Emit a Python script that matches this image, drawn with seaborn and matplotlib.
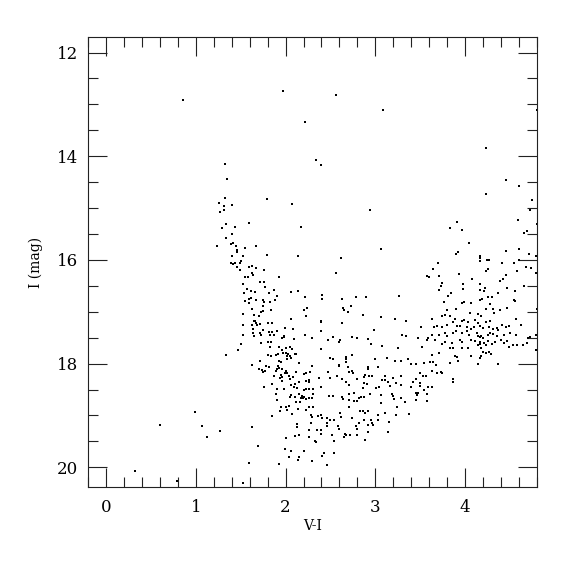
import numpy as np
import pandas as pd
import matplotlib
matplotlib.use("Agg")
import matplotlib.pyplot as plt
import seaborn as sns
from matplotlib.ticker import MultipleLocator

# ---- data (V-I colour, I magnitude) ----
vi_bright = [0.86, 1.97, 2.22, 2.56, 3.09, 2.34, 2.39, 4.23, 4.80, 4.45, 4.60, 4.23,
             4.74, 4.72, 2.94, 3.91, 4.59, 4.80, 3.06, 2.62]
i_bright = [12.91, 12.74, 13.34, 12.81, 13.11, 14.08, 14.16, 13.84, 13.10, 14.46, 14.57, 14.72,
            14.84, 15.04, 15.04, 15.26, 15.23, 15.31, 15.78, 15.97]

vi_blue = [1.33, 1.35, 1.33, 1.79, 1.26, 1.31, 1.40, 2.07, 1.32, 1.27, 1.34, 1.59, 1.29, 1.44,
           2.17, 1.40, 1.34, 1.24, 1.39, 1.41, 1.45, 1.55, 1.67, 1.46, 1.46, 1.40, 1.53, 1.79,
           2.14, 1.50, 1.49, 1.44, 1.39, 1.42, 1.46, 1.59, 1.63, 1.67, 1.49, 1.76, 1.63, 1.58,
           1.55, 1.64, 1.93, 1.72, 1.76, 1.53, 1.77, 1.57, 1.87, 1.61, 1.66, 1.54, 2.06, 2.14,
           1.82, 1.90, 2.22, 1.61, 1.59, 1.55, 1.67, 1.75, 1.76, 1.88, 1.83, 1.59, 1.75, 1.63,
           2.24]
i_blue = [14.15, 14.44, 14.81, 14.83, 14.91, 14.96, 14.95, 14.92, 15.04, 15.07, 15.31, 15.29,
          15.39, 15.37, 15.37, 15.50, 15.58, 15.73, 15.70, 15.68, 15.74, 15.77, 15.74, 15.81,
          15.85, 15.93, 15.92, 15.90, 15.92, 16.03, 16.06, 16.06, 16.06, 16.08, 16.13, 16.13,
          16.12, 16.16, 16.19, 16.19, 16.26, 16.32, 16.32, 16.29, 16.33, 16.42, 16.42, 16.47,
          16.53, 16.56, 16.58, 16.60, 16.61, 16.63, 16.61, 16.60, 16.63, 16.69, 16.71, 16.73,
          16.76, 16.80, 16.78, 16.78, 16.82, 16.78, 16.82, 16.84, 16.88, 16.94, 16.92]

vi_mid = [2.20, 1.53, 1.73, 1.75, 1.65, 1.84, 1.70, 2.23, 1.65, 1.66, 1.67, 1.63, 1.68, 1.72,
          1.53, 1.81, 1.85, 1.64, 1.75, 2.06, 1.99, 2.08, 1.53, 1.64, 1.72, 1.73, 1.65, 1.82,
          1.85, 1.90, 1.83, 1.87, 2.22, 1.98, 1.96, 1.98, 2.09, 1.50, 1.73, 1.81, 1.84, 1.83,
          1.93, 1.96, 2.00, 2.05, 2.07, 1.47, 1.34, 1.81, 1.84, 1.89, 1.92, 1.97, 2.00, 2.03,
          2.10, 2.12, 2.02, 2.05, 2.06, 1.93, 1.95, 2.02, 1.71, 1.63, 1.78, 1.82, 2.15, 1.92,
          1.93, 1.91, 1.89, 1.70, 1.74, 1.77, 1.75, 1.96, 2.00, 1.87, 1.95, 1.96, 1.99, 2.02,
          2.04, 2.12, 2.05, 2.08, 2.20, 2.23, 2.27, 1.94, 1.96, 2.26, 1.85, 1.76, 2.06, 2.10,
          2.15, 2.23, 2.26, 1.91, 1.98, 2.09, 2.13, 2.20, 2.23, 2.26, 1.89, 2.06, 2.05, 2.10,
          2.15, 2.18, 2.17, 2.19, 2.21, 2.23, 2.26, 1.91, 2.12, 2.16, 2.26, 1.95, 2.00, 2.04,
          2.14, 2.23, 1.94, 2.02, 2.07, 1.85, 1.07, 1.12, 1.27, 1.63, 2.13, 2.13, 1.69, 2.26,
          2.01, 2.10, 2.15, 2.26, 1.99, 2.06, 2.21, 1.59, 1.93, 2.04, 2.14, 2.15, 1.53, 0.99,
          0.60, 0.32, 0.79, 2.29, 2.46]
i_mid = [16.97, 17.04, 17.00, 16.98, 17.06, 16.97, 17.09, 17.09, 17.17, 17.18, 17.22, 17.26,
         17.25, 17.23, 17.26, 17.22, 17.22, 17.33, 17.35, 17.14, 17.32, 17.33, 17.44, 17.40,
         17.41, 17.44, 17.47, 17.39, 17.39, 17.38, 17.44, 17.44, 17.44, 17.47, 17.51, 17.49,
         17.53, 17.62, 17.61, 17.59, 17.58, 17.67, 17.67, 17.73, 17.70, 17.68, 17.72, 17.74,
         17.83, 17.83, 17.86, 17.83, 17.81, 17.80, 17.79, 17.81, 17.81, 17.82, 17.86, 17.85,
         17.89, 17.94, 17.97, 17.92, 17.95, 18.03, 18.04, 18.06, 17.99, 18.05, 18.08, 18.11,
         18.15, 18.10, 18.13, 18.15, 18.17, 18.11, 18.15, 18.23, 18.22, 18.25, 18.18, 18.19,
         18.23, 18.17, 18.29, 18.26, 18.20, 18.18, 18.17, 18.28, 18.34, 18.31, 18.40, 18.45,
         18.41, 18.39, 18.36, 18.33, 18.35, 18.49, 18.49, 18.45, 18.47, 18.50, 18.49, 18.49,
         18.59, 18.60, 18.65, 18.64, 18.59, 18.62, 18.67, 18.67, 18.64, 18.68, 18.67, 18.70,
         18.74, 18.74, 18.84, 18.83, 18.83, 18.82, 18.87, 18.90, 18.92, 18.90, 18.97, 19.01,
         19.20, 19.41, 19.30, 19.23, 19.17, 19.23, 19.58, 19.29, 19.44, 19.40, 19.38, 19.41,
         19.64, 19.68, 19.69, 19.91, 19.93, 19.81, 19.85, 19.81, 20.31, 18.94, 19.19, 20.08,
         20.26, 19.87, 19.95]

vi_rgb1 = [2.56, 2.41, 2.41, 2.63, 2.78, 2.90, 3.26, 2.64, 2.65, 2.73, 2.69, 2.86, 3.06, 3.22,
           3.34, 2.39, 2.40, 2.63, 2.99, 2.40, 2.30, 2.47, 2.53, 2.59, 2.61, 2.74, 2.79, 2.92,
           2.95, 3.07, 3.25, 3.30, 3.34, 2.40, 2.74, 2.67, 2.67, 2.67, 2.50, 2.53, 2.59, 2.60,
           2.70, 2.29, 3.00, 3.03, 3.13, 3.22, 3.29, 3.36, 2.92, 2.92, 2.71, 2.74, 2.75, 2.80,
           2.87, 2.89, 2.93, 2.96, 2.47, 2.57, 2.63, 2.37, 2.49, 3.07, 3.11, 3.11, 3.14, 3.20,
           3.16, 3.23, 3.29, 3.29, 2.67, 2.71, 2.87, 2.91, 2.86, 3.01, 3.04, 2.31, 2.40, 2.31,
           2.30, 2.63, 2.64, 2.48, 2.53, 2.71, 2.76, 2.71, 2.76, 2.79, 2.82, 2.84, 2.87, 2.94,
           3.06, 3.06, 3.18, 3.20, 3.21, 3.28, 3.33]
i_rgb1 = [16.25, 16.67, 16.75, 16.75, 16.72, 16.71, 16.69, 16.93, 16.96, 16.88, 17.01, 17.06,
          17.10, 17.14, 17.17, 17.17, 17.19, 17.21, 17.35, 17.37, 17.50, 17.54, 17.49, 17.58,
          17.55, 17.49, 17.51, 17.52, 17.62, 17.66, 17.69, 17.45, 17.47, 17.72, 17.83, 17.87,
          17.92, 17.96, 17.90, 17.92, 18.02, 18.04, 18.06, 18.04, 17.91, 18.06, 17.90, 17.95,
          17.94, 17.92, 18.06, 18.11, 18.17, 18.15, 18.19, 18.29, 18.25, 18.21, 18.23, 18.24,
          18.17, 18.23, 18.29, 18.28, 18.27, 18.31, 18.24, 18.32, 18.36, 18.27, 18.44, 18.37,
          18.41, 18.24, 18.35, 18.42, 18.37, 18.40, 18.47, 18.47, 18.46, 18.49, 18.45, 18.58,
          18.67, 18.65, 18.68, 18.63, 18.62, 18.58, 18.56, 18.70, 18.72, 18.73, 18.66, 18.64,
          18.65, 18.58, 18.60, 18.76, 18.58, 18.63, 18.69, 18.67, 18.74]

vi_rgb2 = [2.31, 2.71, 2.83, 2.86, 2.89, 2.92, 3.24, 3.37, 2.28, 2.29, 2.36, 2.39, 2.41, 2.46,
           2.49, 2.54, 2.61, 2.62, 2.74, 2.87, 2.95, 3.03, 3.03, 3.11, 3.23, 2.28, 2.46, 2.46,
           2.58, 2.59, 2.78, 2.79, 2.82, 2.92, 2.96, 2.97, 3.15, 2.35, 2.40, 2.39, 2.66, 2.67,
           2.65, 2.72, 2.80, 2.52, 2.92, 3.14, 2.54, 2.88, 2.33, 2.34, 2.43, 2.41, 2.54]
i_rgb2 = [18.84, 18.84, 18.92, 18.92, 18.95, 18.92, 18.84, 18.97, 18.99, 19.03, 19.01, 19.00,
          19.05, 19.04, 19.09, 19.09, 18.96, 19.03, 19.05, 19.08, 19.08, 19.00, 19.09, 18.95,
          19.00, 19.15, 19.15, 19.21, 19.21, 19.27, 19.21, 19.27, 19.15, 19.18, 19.14, 19.19,
          19.13, 19.29, 19.29, 19.36, 19.35, 19.38, 19.42, 19.38, 19.38, 19.38, 19.32, 19.31,
          19.49, 19.47, 19.50, 19.51, 19.72, 19.79, 19.72]

vi_red1 = [3.83, 3.96, 4.69, 4.66, 4.04, 3.90, 3.92, 4.46, 4.60, 4.71, 4.79, 4.17, 4.17, 4.17,
           4.24, 4.26, 3.70, 3.64, 3.57, 3.60, 3.71, 3.93, 4.25, 4.23, 4.41, 4.54, 4.60, 4.68,
           4.73, 4.58, 4.79, 4.46, 4.42, 4.39, 4.08, 3.74, 3.73, 3.71, 3.84, 3.81, 3.98, 3.98,
           4.17, 4.22, 4.17, 4.21, 4.19, 4.17, 4.25, 4.30, 4.37, 4.47, 4.56, 4.54, 4.56, 4.65,
           3.76, 3.96, 3.99, 4.07, 4.28, 4.23, 4.31, 4.47, 4.39, 4.80, 3.90, 3.80, 3.74, 3.63,
           3.78, 4.05, 4.14, 4.18, 4.32, 4.57, 4.62]
i_red1 = [15.38, 15.42, 15.44, 15.49, 15.68, 15.88, 15.84, 15.83, 15.79, 15.88, 15.92, 15.92,
          15.97, 16.03, 16.00, 16.00, 16.06, 16.17, 16.31, 16.33, 16.31, 16.28, 16.17, 16.22,
          16.06, 16.06, 16.00, 16.14, 16.16, 16.22, 16.26, 16.29, 16.37, 16.40, 16.36, 16.45,
          16.51, 16.58, 16.64, 16.69, 16.47, 16.56, 16.47, 16.55, 16.58, 16.60, 16.76, 16.77,
          16.72, 16.71, 16.64, 16.54, 16.59, 16.78, 16.79, 16.51, 16.81, 16.83, 16.82, 16.83,
          16.85, 16.95, 16.94, 16.92, 16.97, 16.95, 16.95, 16.97, 17.09, 17.13, 17.06, 17.03,
          17.05, 17.09, 17.03, 17.13, 17.26]

vi_red2 = [3.83, 3.89, 3.96, 3.99, 4.03, 4.11, 4.14, 4.23, 4.28, 4.41, 4.46, 4.49, 3.51, 3.65,
           3.69, 3.74, 3.80, 3.86, 3.91, 3.94, 4.02, 4.06, 4.10, 4.17, 4.20, 4.26, 4.31, 4.35,
           4.37, 3.47, 3.59, 3.63, 3.71, 3.77, 3.80, 3.86, 3.90, 3.96, 4.02, 4.04, 4.13, 4.14,
           4.16, 4.18, 4.20, 4.25, 4.28, 4.31, 4.36, 4.43, 4.50, 4.57, 4.70, 4.79, 3.85, 3.87,
           3.94, 3.97, 4.06, 4.11, 4.16, 4.17, 4.21, 4.23, 4.25, 4.30, 4.33, 4.40, 4.43, 4.47,
           4.49, 4.53, 4.58, 4.64, 4.69, 4.72, 3.74, 3.78, 3.83, 3.96, 4.03, 4.14, 4.18, 4.20,
           4.23, 4.26, 4.29, 4.37, 4.79]
i_red2 = [17.09, 17.13, 17.17, 17.15, 17.19, 17.15, 17.22, 17.19, 17.18, 17.26, 17.30, 17.28,
          17.29, 17.29, 17.27, 17.29, 17.26, 17.20, 17.27, 17.28, 17.29, 17.33, 17.29, 17.28,
          17.32, 17.29, 17.33, 17.32, 17.35, 17.51, 17.51, 17.44, 17.44, 17.41, 17.47, 17.40,
          17.38, 17.41, 17.38, 17.44, 17.40, 17.46, 17.49, 17.47, 17.51, 17.45, 17.41, 17.42,
          17.47, 17.45, 17.41, 17.45, 17.50, 17.44, 17.60, 17.69, 17.54, 17.58, 17.54, 17.56,
          17.58, 17.62, 17.60, 17.64, 17.56, 17.62, 17.59, 17.54, 17.60, 17.56, 17.67, 17.64,
          17.65, 17.65, 17.60, 17.49, 17.62, 17.58, 17.69, 17.70, 17.69, 17.65, 17.69, 17.77,
          17.79, 17.78, 17.82, 18.00, 17.74]

vi_red3 = [3.57, 3.66, 3.52, 3.63, 3.71, 3.89, 3.91, 3.92, 4.06, 4.18, 4.17, 4.14, 3.83, 3.40,
           3.45, 3.54, 3.61, 3.64, 3.67, 3.74, 3.69, 3.73, 3.63, 3.50, 3.53, 3.56, 3.45, 3.87,
           3.87, 3.59, 3.63, 3.50, 3.50, 3.42, 3.40, 3.47, 3.46, 3.57, 3.45, 3.54, 3.58, 3.45,
           3.06, 2.62]
i_red3 = [17.55, 17.54, 17.68, 17.83, 17.79, 17.86, 17.88, 17.95, 17.86, 17.86, 17.90, 18.01,
          17.99, 18.00, 18.01, 17.99, 17.96, 17.96, 18.03, 18.18, 18.19, 18.17, 18.15, 18.18,
          18.23, 18.23, 18.30, 18.30, 18.36, 18.45, 18.45, 18.37, 18.44, 18.36, 18.46, 18.56,
          18.60, 18.59, 18.57, 18.51, 18.72, 18.71, 15.78, 15.97]

vi = vi_bright + vi_blue + vi_mid + vi_rgb1 + vi_rgb2 + vi_red1 + vi_red2 + vi_red3
imag = i_bright + i_blue + i_mid + i_rgb1 + i_rgb2 + i_red1 + i_red2 + i_red3
df = pd.DataFrame({"V-I": vi, "I": imag})

x_ticks = [0, 1, 2, 3, 4]
y_ticks = [12, 14, 16, 18, 20]

# ---- style ----
sns.set_theme(style="ticks")
plt.rcParams["font.family"] = ["DejaVu Serif"]
plt.rcParams["text.color"] = "black"
plt.rcParams["axes.labelcolor"] = "black"
plt.rcParams["xtick.color"] = "black"
plt.rcParams["ytick.color"] = "black"

fig = plt.figure(figsize=(5.75, 5.75), dpi=100)
ax = fig.add_axes([88 / 575, 1 - 487 / 575, (537 - 88) / 575, (487 - 37) / 575])

sns.scatterplot(data=df, x="V-I", y="I", ax=ax, marker="s", s=3.6,
                color="black", linewidth=0, legend=False)

ax.set_xlim(-0.2, 4.8)
ax.set_ylim(20.38, 11.7)
ax.set_xticks(x_ticks)
ax.set_yticks(y_ticks)
ax.set_xticklabels([str(t) for t in x_ticks])
ax.set_yticklabels([str(t) for t in y_ticks])
ax.xaxis.set_minor_locator(MultipleLocator(0.2))
ax.yaxis.set_minor_locator(MultipleLocator(0.5))

ax.tick_params(which="both", direction="in", top=True, right=True,
               color="#222222", labelcolor="black", width=0.8)
ax.tick_params(which="major", length=13.5, labelsize=12, pad=9)
ax.tick_params(which="minor", length=7)
ax.tick_params(axis="y", which="major", pad=7)
for sp in ax.spines.values():
    sp.set_linewidth(0.8)
    sp.set_color("#222222")

ax.set_xlabel("V-I", fontsize=10, labelpad=2, color="black")
ax.set_ylabel("I (mag)", fontsize=10, labelpad=10, color="black")

fig.savefig("out.png", dpi=100)
